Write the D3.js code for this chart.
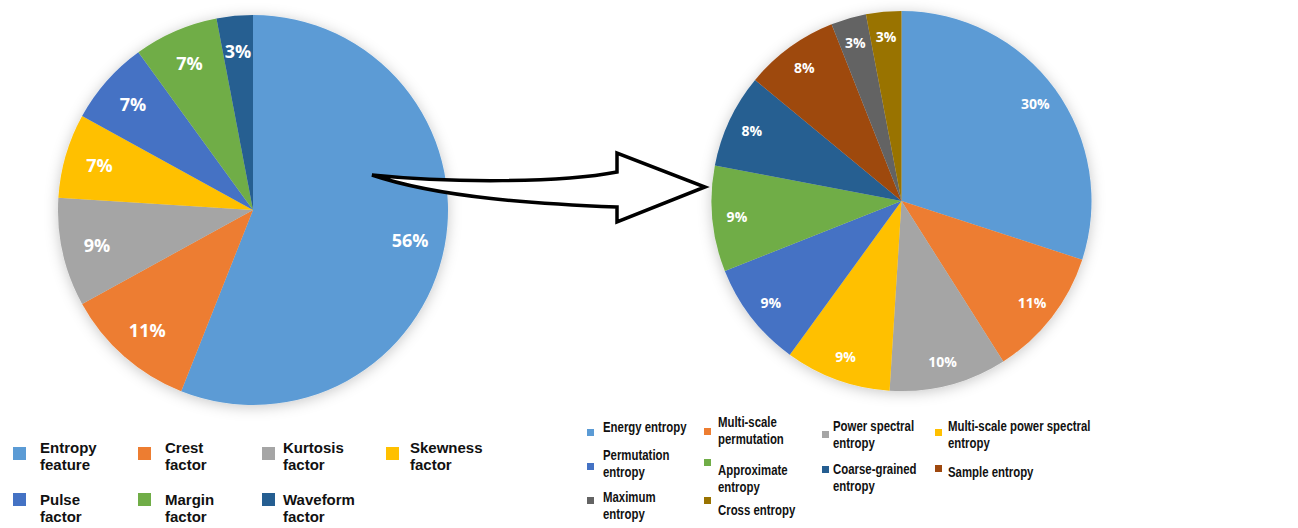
<!DOCTYPE html>
<html><head><meta charset="utf-8">
<script src="https://cdn.jsdelivr.net/npm/d3@7"></script>
<style>html,body{margin:0;padding:0;background:#fff;} svg{display:block;}</style>
</head><body>
<svg id="c" width="1298" height="528"></svg>
<script>
// ---- data ----
const leftCategories = ["Entropy feature","Crest factor","Kurtosis factor","Skewness factor","Pulse factor","Margin factor","Waveform factor"];
const leftValues = [56, 11, 9, 7, 7, 7, 3];
const leftLabels = ["56%","11%","9%","7%","7%","7%","3%"];

const rightCategories = ["Energy entropy","Multi-scale permutation","Power spectral entropy","Multi-scale power spectral entropy","Permutation entropy","Approximate entropy","Coarse-grained entropy","Sample entropy","Maximum entropy","Cross entropy"];
const rightValues = [30, 11, 10, 9, 9, 9, 8, 8, 3, 3];
const rightLabels = ["30%","11%","10%","9%","9%","9%","8%","8%","3%","3%"];

// legend line breaks (text)
const leftLegendLines = [["Entropy","feature"],["Crest","factor"],["Kurtosis","factor"],["Skewness","factor"],["Pulse","factor"],["Margin","factor"],["Waveform","factor"]];
const rightLegendLines = [["Energy entropy"],["Multi-scale","permutation"],["Power spectral","entropy"],["Multi-scale power spectral","entropy"],["Permutation","entropy"],["Approximate","entropy"],["Coarse-grained","entropy"],["Sample entropy"],["Maximum","entropy"],["Cross entropy"]];

// ---- styles / layout ----
const leftColors = ["#5B9BD5","#ED7D31","#A5A5A5","#FFC000","#4472C4","#70AD47","#255E91"];
const rightColors = ["#5B9BD5","#ED7D31","#A5A5A5","#FFC000","#4472C4","#70AD47","#255E91","#9E480E","#636363","#997300"];
const FONT = "'Open Sans', 'DejaVu Sans', sans-serif";
const LFONT = "'Liberation Sans', Arial, sans-serif";

const svg = d3.select("#c");
const defs = svg.append("defs");
const f = defs.append("filter").attr("id","sh").attr("x","-20%").attr("y","-20%").attr("width","140%").attr("height","140%");
f.append("feDropShadow").attr("dx",0).attr("dy",2).attr("stdDeviation",7).attr("flood-color","#000").attr("flood-opacity",0.22);

function drawPie(cx, cy, r, values, colors, labels, labelFrac, fontSize) {
  const pie = d3.pie().sort(null).value(d => d);
  const arcs = pie(values);
  const arc = d3.arc().innerRadius(0).outerRadius(r);
  const lab = d3.arc().innerRadius(r*labelFrac).outerRadius(r*labelFrac);
  const g = svg.append("g").attr("transform", `translate(${cx},${cy})`);
  g.append("g").attr("filter","url(#sh)")
    .selectAll("path").data(arcs).join("path")
    .attr("d", arc).attr("fill", (d,i) => colors[i]);
  g.selectAll("text").data(arcs).join("text")
    .attr("transform", d => { const c = lab.centroid(d); return `translate(${c[0]},${c[1]})`; })
    .attr("text-anchor","middle").attr("dominant-baseline","central")
    .attr("fill","#fff").attr("font-family",FONT).attr("font-weight","bold")
    .attr("font-size",fontSize)
    .text((d,i) => labels[i]);
}

drawPie(253, 210, 195, leftValues, leftColors, leftLabels, 0.82, 18);
drawPie(901.5, 201, 190, rightValues, rightColors, rightLabels, 0.87, 14);

// arrow
svg.append("path")
  .attr("d","M372,175 C450,183 560,183 617,172 L617,153 L705,187 L617,222 L617,207 C540,204 440,198 372,175 Z")
  .attr("fill","#fff").attr("stroke","#000").attr("stroke-width",3.5).attr("stroke-linejoin","miter");

// left legend
const lColMarkerX = [13,138,262,386], lColTextX = [40,165,283,410];
const lRowMarkerY = [447,493], lRowBase = [453,505];
const ll = svg.append("g");
leftCategories.forEach((c,i) => {
  const col = i % 4, row = Math.floor(i/4);
  ll.append("rect").attr("x",lColMarkerX[col]).attr("y",lRowMarkerY[row]).attr("width",13).attr("height",13).attr("fill",leftColors[i]);
  leftLegendLines[i].forEach((ln,j) =>
    ll.append("text").attr("x",lColTextX[col]).attr("y",lRowBase[row] + j*17)
      .attr("font-family",LFONT).attr("font-weight","bold").attr("font-size",15).attr("fill","#111").text(ln));
});

// right legend
const rLayout = [
  [587,429,603,432],[704,428,718,427],[822,431,833,431],[935,429,948,431],
  [587,463,603,460],[704,459,718,475],[822,466,833,474],[935,465,948,477],
  [587,497,603,502],[704,497,718,515]
];
const rl = svg.append("g");
rightCategories.forEach((c,i) => {
  const [mx,my,tx,ty] = rLayout[i];
  rl.append("rect").attr("x",mx).attr("y",my).attr("width",7).attr("height",7).attr("fill",rightColors[i]);
  rightLegendLines[i].forEach((ln,j) =>
    rl.append("text").attr("transform",`translate(${tx},${ty + j*17}) scale(0.76,1)`)
      .attr("font-family",LFONT).attr("font-weight","bold").attr("font-size",15).attr("fill","#111").text(ln));
});
</script>
</body></html>
